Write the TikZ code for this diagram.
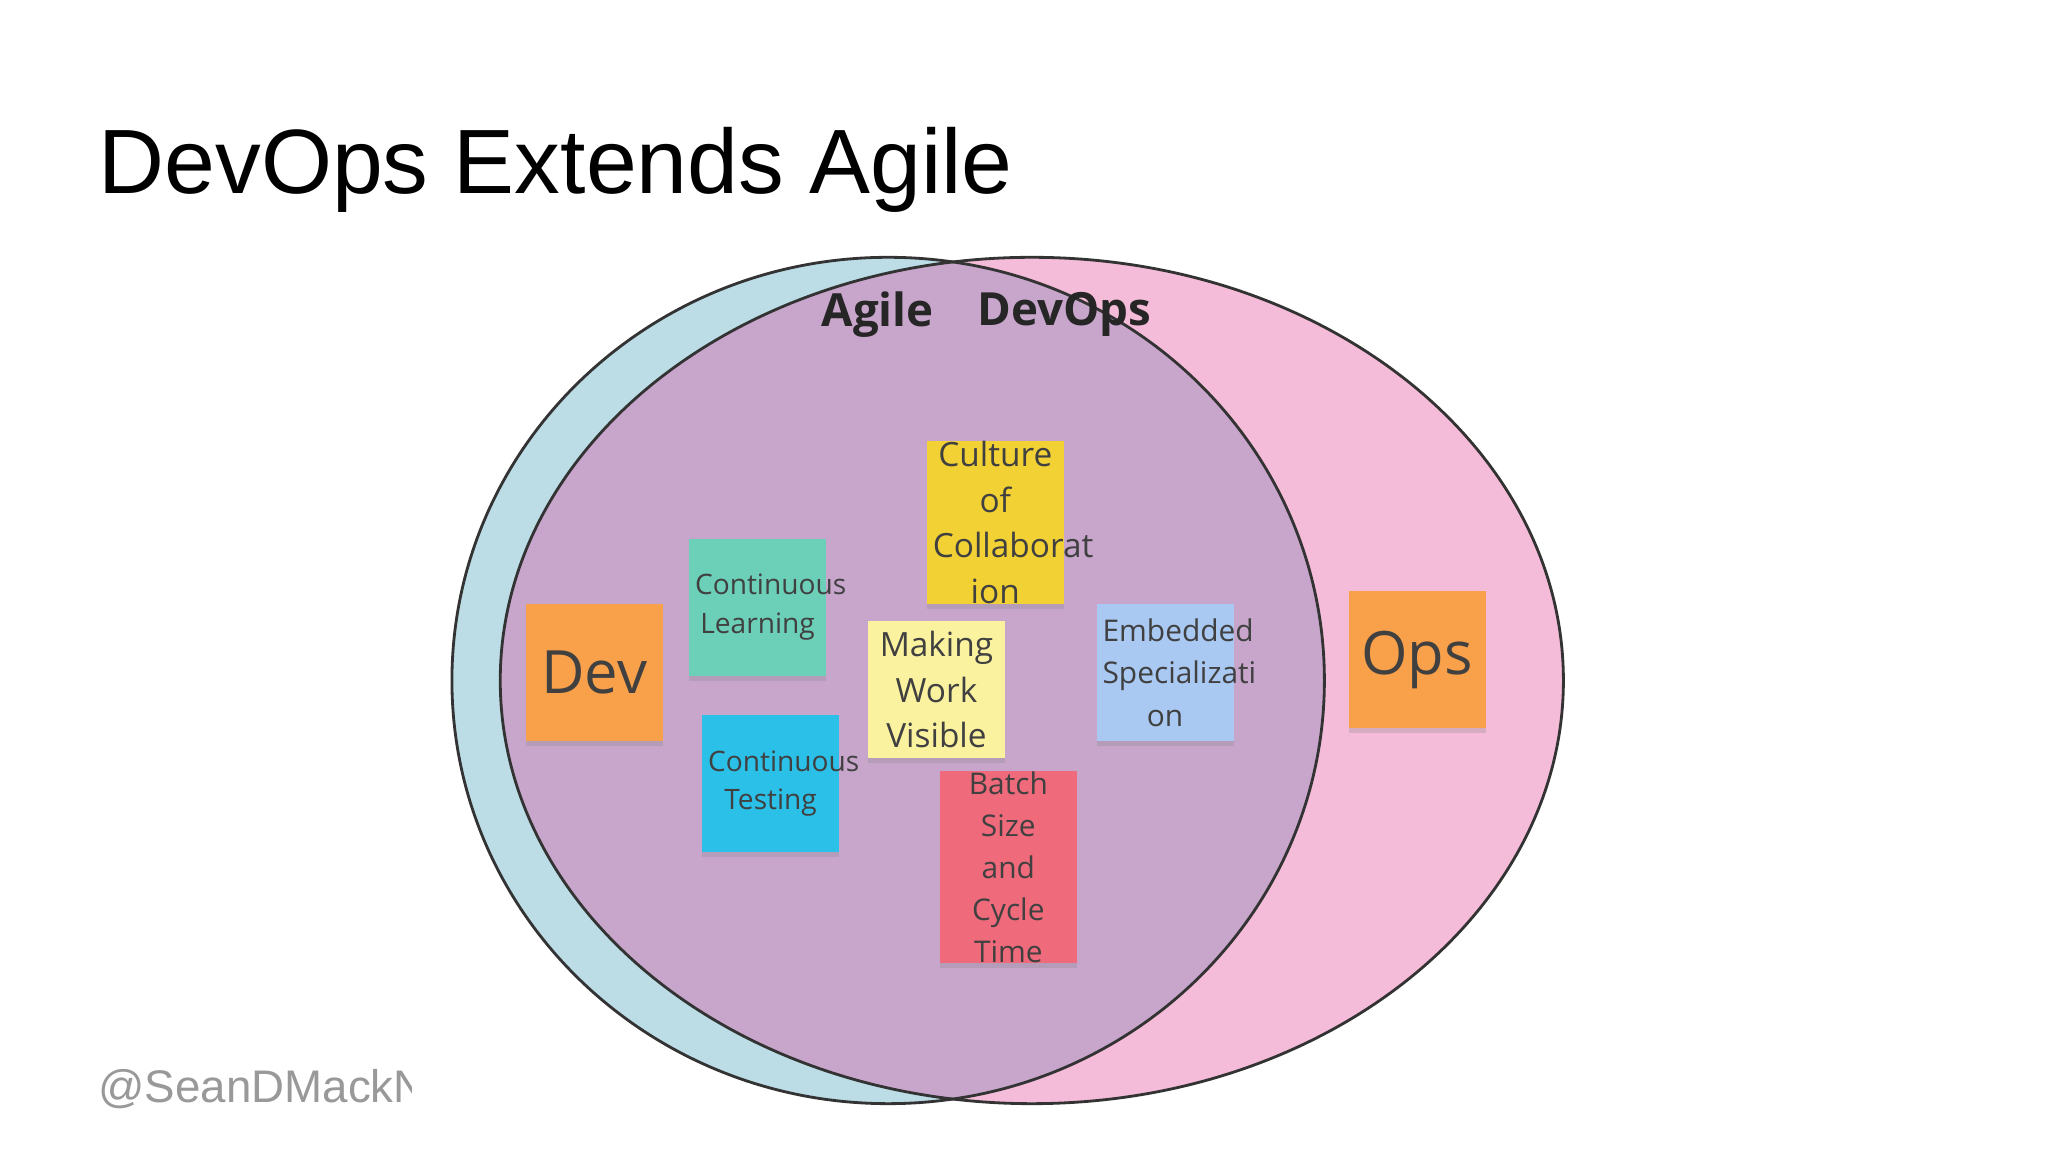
\documentclass[tikz,border=0pt]{standalone}
\usepackage{fontspec}
\setmainfont{Liberation Sans}
\newfontfamily\notefont{Open Sans}
\usetikzlibrary{shadows}
\definecolor{agileblue}{HTML}{BCDCE6}
\definecolor{devpink}{HTML}{F4BCD8}
\definecolor{overlap}{HTML}{C8A6CC}
\definecolor{cOrange}{HTML}{F9A04A}
\definecolor{cYellow}{HTML}{F2D135}
\definecolor{cTeal}{HTML}{6CCFB8}
\definecolor{cPale}{HTML}{FBF2A0}
\definecolor{cSky}{HTML}{A9C9F2}
\definecolor{cCyan}{HTML}{2BC0E8}
\definecolor{cRed}{HTML}{EF6A7B}
\tikzset{
  sticky/.style={minimum width=105\pgflinewidth, inner sep=0pt, text width=1.25cm, align=center,
    minimum width=1.37cm, minimum height=1.37cm, font=\notefont\fontsize{8}{11}\selectfont, text=black!75,
    drop shadow={shadow xshift=0pt, shadow yshift=-1.5pt, opacity=0.25}},
  big/.style={font=\notefont\fontsize{17}{20}\selectfont},
  mid/.style={font=\notefont\fontsize{9.5}{13}\selectfont}
}
\begin{document}
\begin{tikzpicture}[x=0.013061cm,y=-0.013061cm]
\useasboundingbox (0,0) rectangle (1568,882);
\fill[white] (0,0) rectangle (1568,882);
\node[anchor=west,font=\fontsize{26}{30}\selectfont] (title) at (66,130) {DevOps Extends Agile};
\fill[agileblue] (680,521) ellipse [x radius=334, y radius=324];
\fill[devpink] (790,521) ellipse [x radius=407, y radius=324];
\begin{scope}
\clip (680,521) ellipse [x radius=334, y radius=324];
\fill[overlap] (790,521) ellipse [x radius=407, y radius=324];
\end{scope}
\draw[black!80, line width=0.8pt] (680,521) ellipse [x radius=334, y radius=324];
\draw[black!80, line width=0.8pt] (790,521) ellipse [x radius=407, y radius=324];
\node[font=\notefont\bfseries\fontsize{13}{15}\selectfont, text=black!85] (agile) at (672,241) {Agile};
\node[font=\notefont\bfseries\fontsize{13}{15}\selectfont, text=black!85] (devops) at (815,241) {DevOps};
\node[sticky, fill=cOrange, big] (dev) at (455,515) {Dev};
\node[sticky, fill=cOrange, big] (ops) at (1085,505) {Ops};
\node[sticky, fill=cYellow, mid] (cult) at (762,400) {Culture of\\Collaborat\\ion};
\node[sticky, fill=cTeal] (learn) at (580,465) {Continuous\\Learning};
\node[sticky, fill=cPale, mid] (mwv) at (717,528) {Making\\Work\\Visible};
\node[sticky, fill=cSky, mid, font=\notefont\fontsize{8.5}{12}\selectfont] (emb) at (892,515) {Embedded\\Specializati\\on};
\node[sticky, fill=cCyan] (test) at (590,600) {Continuous\\Testing};
\node[sticky, fill=cRed, mid, font=\notefont\fontsize{8.5}{12}\selectfont] (batch) at (772,664) {Batch Size\\and Cycle\\Time};
\begin{scope}
\clip (60,810) rectangle (315,860);
\node[anchor=west, text=black!40, font=\fontsize{13}{15}\selectfont] (handle) at (66,834) {@SeanDMackNYC};
\end{scope}
\end{tikzpicture}
\end{document}
